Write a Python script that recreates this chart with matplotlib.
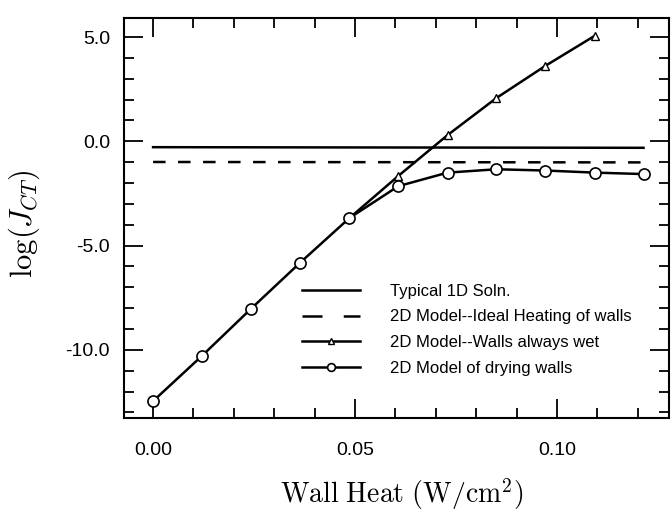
import matplotlib
matplotlib.use("Agg")
import matplotlib.pyplot as plt
from matplotlib.lines import Line2D
from matplotlib.ticker import MultipleLocator, FormatStrFormatter

plt.rcParams["font.family"] = ["Liberation Sans", "DejaVu Sans"]
plt.rcParams["mathtext.fontset"] = "cm"
plt.rcParams["axes.unicode_minus"] = False

# ---- data ----
wall_heat = [0.0, 0.0121, 0.0243, 0.0364, 0.0486, 0.0607,
             0.0729, 0.0850, 0.0971, 0.1093, 0.1214]
drying_walls = [-12.46, -10.29, -8.02, -5.82, -3.68, -2.15,
                -1.50, -1.34, -1.40, -1.50, -1.57]

wet_heat = [0.0486, 0.0607, 0.0729, 0.0850, 0.0971, 0.1093]
walls_wet = [-3.68, -1.66, 0.30, 2.08, 3.62, 5.06]

flat_heat = [0.0, 0.1214]
typical_1d = [-0.28, -0.31]
ideal_heating = [-0.99, -1.01]

labels = ["Typical 1D Soln.",
          "2D Model--Ideal Heating of walls",
          "2D Model--Walls always wet",
          "2D Model of drying walls"]

fig = plt.figure(figsize=(6.72, 5.12), dpi=100)
ax = fig.add_axes([0.1845, 0.1836, 0.811, 0.781])

lw = 1.8
ax.plot(flat_heat, typical_1d, color="black", lw=lw, label=labels[0])
ax.plot(flat_heat, ideal_heating, color="black", lw=lw, dashes=(5, 5),
        label=labels[1])
ax.plot(wet_heat, walls_wet, color="black", lw=lw, marker="^", ms=6,
        mfc="white", mec="black", mew=1.0, label=labels[2])
ax.plot(wall_heat, drying_walls, color="black", lw=lw, marker="o", ms=8,
        mfc="white", mec="black", mew=1.2, label=labels[3])

ax.set_xlim(-0.0072, 0.1277)
ax.set_ylim(-13.27, 5.91)

ax.xaxis.set_major_locator(MultipleLocator(0.05))
ax.xaxis.set_minor_locator(MultipleLocator(0.01))
ax.yaxis.set_major_locator(MultipleLocator(5.0))
ax.yaxis.set_minor_locator(MultipleLocator(1.0))
ax.xaxis.set_major_formatter(FormatStrFormatter("%.2f"))
ax.yaxis.set_major_formatter(FormatStrFormatter("%.1f"))

ax.tick_params(which="both", direction="in", top=True, right=True,
               width=1.3, labelsize=14)
ax.tick_params(which="major", length=14)
ax.tick_params(which="minor", length=7)
ax.tick_params(axis="x", pad=17)
ax.tick_params(axis="y", pad=10)
for sp in ax.spines.values():
    sp.set_linewidth(1.5)

ax.set_xlabel(r"$\mathrm{Wall\ Heat\ (W/cm^2)}$", fontsize=20)
ax.xaxis.set_label_coords(0.51, -0.146)
ax.set_ylabel(r"$\log(J_{CT})$", fontsize=22)
ax.yaxis.set_label_coords(-0.15, 0.485)

# legend: the dashed key uses longer dashes, as in the original
handles, leg_labels = ax.get_legend_handles_labels()
handles[1] = Line2D([], [], color="black", lw=lw, dashes=(8, 8.5))
ax.legend(handles, leg_labels, loc="upper left",
          bbox_to_anchor=(0.327, 0.336), frameon=False,
          fontsize=12, handlelength=3.47, handletextpad=1.8,
          labelspacing=0.65, borderpad=0, borderaxespad=0,
          numpoints=1, markerscale=0.7)

fig.savefig("out.png", dpi=100)
